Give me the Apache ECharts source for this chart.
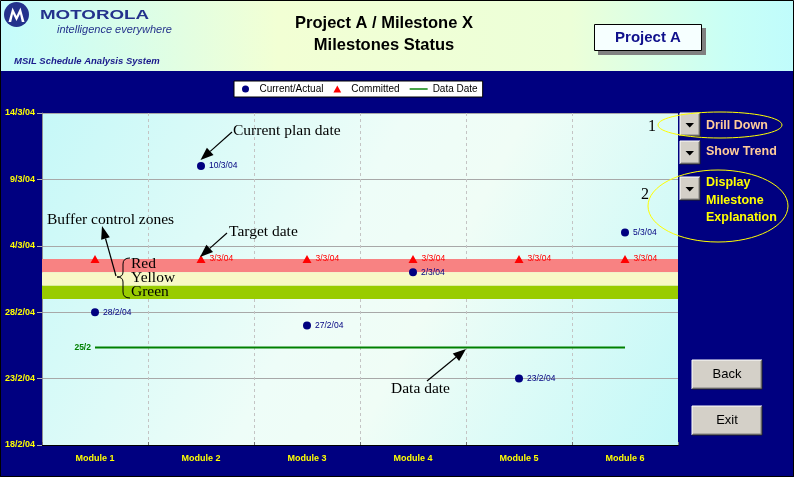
<!DOCTYPE html>
<html>
<head>
<meta charset="utf-8">
<title>Milestones Status</title>
<script src="https://cdn.jsdelivr.net/npm/echarts@6/dist/echarts.min.js"></script>
<style>
  html, body { margin: 0; padding: 0; background: #000080; }
  #chart { width: 794px; height: 477px; }
</style>
</head>
<body>
<div id="chart"></div>
<script>
// x axis categories
var modules = ['Module 1', 'Module 2', 'Module 3', 'Module 4', 'Module 5', 'Module 6'];
// current / actual date of each module
var actualDates = ['2004-02-28', '2004-03-10', '2004-02-27', '2004-03-02', '2004-02-23', '2004-03-05'];
// committed date of each module (first one has no label in the picture)
var committedDates = ['2004-03-03', '2004-03-03', '2004-03-03', '2004-03-03', '2004-03-03', '2004-03-03'];
var committedShowLabel = [false, true, true, true, true, true];
// data date line
var dataDate = '2004-02-25T08:00';
var dataDateLabel = '25/2';
// buffer control zones [from, to]
var redZone = ['2004-03-02', '2004-03-03'];
var yellowZone = ['2004-03-01', '2004-03-02'];
var greenZone = ['2004-02-29', '2004-03-01'];
// y axis ticks: 18/2/04 .. 14/3/04 every 5 days
var axisStart = '2004-02-18';
var axisStepDays = 5;
var axisSteps = 5;

var DAY = 86400000;
function utc(s) {
    var p = s.split(/[-T:]/).map(Number);
    return Date.UTC(p[0], p[1] - 1, p[2], p[3] || 0, p[4] || 0);
}
// days since axisStart
function dayOffset(s) {
    return (utc(s) - utc(axisStart)) / DAY;
}
// '2004-03-10' -> '10/3/04'
function shortDate(s) {
    var p = s.split(/[-T]/);
    return Number(p[2]) + '/' + Number(p[1]) + '/' + p[0].slice(2);
}
function offsetLabel(v) {
    var d = new Date(utc(axisStart) + Math.round(v) * DAY);
    return d.getUTCDate() + '/' + (d.getUTCMonth() + 1) + '/' + String(d.getUTCFullYear()).slice(2);
}

var SANS = 'Arial, "Liberation Sans", sans-serif';
var SERIF = '"Times New Roman", "Liberation Serif", serif';

// ---- decorations ----
var g = [];
function text(x, y, str, font, fill, align, extra) {
    var el = {
        type: 'text', x: x, y: y, z: 10,
        style: { text: str, font: font, fill: fill, align: align || 'left', verticalAlign: 'middle',
                 textAlign: align || 'left', textVerticalAlign: 'middle' }
    };
    if (extra) Object.assign(el, extra);
    g.push(el);
}
function arrow(x1, y1, x2, y2, hl, hw) {
    var a = Math.atan2(y2 - y1, x2 - x1);
    var bx = x2 - hl * Math.cos(a), by = y2 - hl * Math.sin(a);
    var px = -Math.sin(a) * hw / 2, py = Math.cos(a) * hw / 2;
    g.push({ type: 'line', z: 10, shape: { x1: x1, y1: y1, x2: bx, y2: by }, style: { stroke: '#000', lineWidth: 1.2 } });
    g.push({ type: 'polygon', z: 10, shape: { points: [[x2, y2], [bx + px, by + py], [bx - px, by - py]] }, style: { fill: '#000' } });
}
function bevelButton(x, y, w, h) {
    g.push({ type: 'rect', z: 10, shape: { x: x, y: y, width: w, height: h }, style: { fill: '#D4D0C8' } });
    g.push({ type: 'polyline', z: 10, shape: { points: [[x, y + h], [x, y], [x + w, y]] }, style: { stroke: '#FFFFFF', fill: null, lineWidth: 1 } });
    g.push({ type: 'polyline', z: 10, shape: { points: [[x + 1, y + h - 1], [x + w - 1, y + h - 1], [x + w - 1, y + 1]] }, style: { stroke: '#808080', fill: null, lineWidth: 1 } });
    g.push({ type: 'polyline', z: 10, shape: { points: [[x, y + h], [x + w, y + h], [x + w, y]] }, style: { stroke: '#202020', fill: null, lineWidth: 1 } });
}

// header strip
g.push({ type: 'rect', z: 0, shape: { x: 0, y: 0, width: 794, height: 71 },
    style: { fill: new echarts.graphic.LinearGradient(0, 0, 1, 0, [
        { offset: 0, color: '#C4FCFC' }, { offset: 0.35, color: '#F2FFD4' },
        { offset: 0.72, color: '#ECFFD8' }, { offset: 0.92, color: '#C8FFF6' }, { offset: 1, color: '#C0FCFC' }]) } });
// logo
g.push({ type: 'circle', z: 10, shape: { cx: 16.5, cy: 14.5, r: 12.5 }, style: { fill: '#24328C' } });
g.push({ type: 'polygon', z: 11, shape: { points: [[8.5, 22], [12.5, 7.5], [16.5, 16], [20.5, 7.5], [24.5, 22], [21.8, 22], [20, 14], [16.5, 21], [13, 14], [11.2, 22]] }, style: { fill: '#FFFFFF' } });
text(40, 16, 'MOTOROLA', '900 12.5px ' + SANS, '#24328C', 'left', { scaleX: 1.5 });
text(57, 30, 'intelligence everywhere', 'italic 11px ' + SANS, '#24328C');
text(14, 61.5, 'MSIL Schedule Analysis System', 'italic bold 9.5px ' + SANS, '#1A1A8C');
// title
text(384, 23, 'Project A / Milestone X', 'bold 16.5px ' + SANS, '#000', 'center');
text(384, 45, 'Milestones Status', 'bold 16.5px ' + SANS, '#000', 'center');
// project box
g.push({ type: 'rect', z: 10, shape: { x: 598, y: 28, width: 108, height: 27 }, style: { fill: '#808080' } });
g.push({ type: 'rect', z: 10, shape: { x: 594.5, y: 24.5, width: 107, height: 26 }, style: { fill: '#F6FFFF', stroke: '#000', lineWidth: 1 } });
text(648, 37.5, 'Project A', 'bold 15px ' + SANS, '#10108C', 'center');

// right side controls
[113, 141, 177].forEach(function (y) {
    bevelButton(680, y, 20, 23);
    g.push({ type: 'polygon', z: 11, shape: { points: [[685.5, y + 10], [694, y + 10], [689.75, y + 14.5]] }, style: { fill: '#000' } });
});
text(706, 126, 'Drill Down', 'bold 12.5px ' + SANS, '#FFCC99');
text(706, 152, 'Show Trend', 'bold 12.5px ' + SANS, '#FFCC99');
text(706, 183, 'Display', 'bold 12.5px ' + SANS, '#FFFF00');
text(706, 201, 'Milestone', 'bold 12.5px ' + SANS, '#FFFF00');
text(706, 218, 'Explanation', 'bold 12.5px ' + SANS, '#FFFF00');
g.push({ type: 'ellipse', z: 12, shape: { cx: 720, cy: 125, rx: 62, ry: 13 }, style: { fill: null, stroke: '#FFFF00', lineWidth: 1 } });
g.push({ type: 'ellipse', z: 12, shape: { cx: 718, cy: 206, rx: 70, ry: 36 }, style: { fill: null, stroke: '#FFFF00', lineWidth: 1 } });
text(652, 127, '1', '16px ' + SERIF, '#000', 'center');
text(645, 195, '2', '16px ' + SERIF, '#000', 'center');

// back / exit
bevelButton(692, 360, 70, 29);
bevelButton(692, 406, 70, 29);
text(727, 374.5, 'Back', '13px ' + SANS, '#000', 'center');
text(727, 420.5, 'Exit', '13px ' + SANS, '#000', 'center');

// annotations
text(233, 131, 'Current plan date', '15.5px ' + SERIF, '#000');
arrow(232, 132, 200.5, 160, 13, 10);
text(229, 232, 'Target date', '15.5px ' + SERIF, '#000');
arrow(227, 233, 200, 257, 13, 10);
text(47, 220, 'Buffer control zones', '15.5px ' + SERIF, '#000');
arrow(116, 276, 102, 226, 13, 9);
text(131, 264, 'Red', '15.5px ' + SERIF, '#000');
text(131, 278, 'Yellow', '15.5px ' + SERIF, '#000');
text(131, 292, 'Green', '15.5px ' + SERIF, '#000');
[
    [130, 258, 123, 264, 123, 258], [123, 272, 117, 277, 123, 277],
    [117, 277, 123, 282, 123, 277], [123, 292, 130, 298, 123, 298]
].forEach(function (b) {
    g.push({ type: 'bezierCurve', z: 10, shape: { x1: b[0], y1: b[1], x2: b[2], y2: b[3], cpx1: b[4], cpy1: b[5] }, style: { stroke: '#000', fill: null, lineWidth: 1 } });
});
g.push({ type: 'line', z: 10, shape: { x1: 123, y1: 264, x2: 123, y2: 272 }, style: { stroke: '#000', lineWidth: 1 } });
g.push({ type: 'line', z: 10, shape: { x1: 123, y1: 282, x2: 123, y2: 292 }, style: { stroke: '#000', lineWidth: 1 } });
text(391, 389, 'Data date', '15.5px ' + SERIF, '#000');
arrow(427, 381, 466, 349, 13, 10);

// outer frame
g.push({ type: 'rect', z: 20, shape: { x: 0.5, y: 0.5, width: 793, height: 476 }, style: { fill: null, stroke: '#000', lineWidth: 1 } });

// ---- chart ----
var chart = echarts.init(document.getElementById('chart'));
chart.setOption({
    backgroundColor: '#000080',
    animation: false,
    graphic: { elements: g },
    legend: {
        left: 234, top: 81,
        data: [
            { name: 'Current/Actual' },
            { name: 'Committed', icon: 'path://M5,0 L10,9 L0,9 Z' },
            { name: 'Data Date', icon: 'path://M0,0 L20,0 L20,1.6 L0,1.6 Z' }
        ],
        itemWidth: 18, itemHeight: 7, itemGap: 10,
        padding: [3, 5, 3, 8],
        backgroundColor: '#FFFFFF', borderColor: '#000', borderWidth: 1, borderRadius: 0,
        textStyle: { color: '#000', fontSize: 10, fontFamily: SANS }
    },
    grid: {
        left: 42, right: 116, top: 113, bottom: 32,
        show: true, borderWidth: 0,
        backgroundColor: new echarts.graphic.LinearGradient(0, 0, 1, 1, [
            { offset: 0, color: '#C6F8F8' }, { offset: 0.45, color: '#EEFDF8' },
            { offset: 0.6, color: '#F0FDF6' }, { offset: 1, color: '#C2F8F8' }])
    },
    xAxis: {
        type: 'category', data: modules, boundaryGap: true,
        axisLine: { show: true, lineStyle: { color: '#000', width: 1 } },
        axisTick: { show: true, inside: true, length: 3, lineStyle: { color: '#707070' } },
        axisLabel: { color: '#FFFF00', fontWeight: 'bold', fontSize: 9, fontFamily: SANS, margin: 9 },
        splitLine: { show: true, showMinLine: false, showMaxLine: false,
                     lineStyle: { color: '#C4C4C4', type: [3, 3], width: 1 } }
    },
    yAxis: {
        type: 'value', min: 0, max: axisStepDays * axisSteps, interval: axisStepDays,
        axisLine: { show: true, lineStyle: { color: '#909090' } },
        axisTick: { show: true, length: 5, lineStyle: { color: '#B0B0B0' } },
        axisLabel: { color: '#FFFF00', fontWeight: 'bold', fontSize: 9, fontFamily: SANS, margin: 7,
                     formatter: offsetLabel },
        splitLine: { show: true, lineStyle: { color: '#A8A8A8', width: 1 } }
    },
    series: [
        {
            name: 'Data Date', type: 'line', z: 1,
            data: modules.map(function (m, i) {
                return i === 0 ? { value: dayOffset(dataDate), label: { show: true } } : dayOffset(dataDate);
            }),
            color: '#008000',
            lineStyle: { color: '#008000', width: 2 },
            symbol: 'circle', symbolSize: 0.1, showSymbol: true,
            label: { show: false, position: 'left', distance: 4, formatter: dataDateLabel,
                     color: '#008000', fontWeight: 'bold', fontSize: 8.5, fontFamily: SANS },
            markArea: {
                silent: true,
                data: [
                    [{ yAxis: dayOffset(redZone[0]), itemStyle: { color: '#F88282', opacity: 1 } }, { yAxis: dayOffset(redZone[1]) }],
                    [{ yAxis: dayOffset(yellowZone[0]), itemStyle: { color: '#F8F8C6', opacity: 1 } }, { yAxis: dayOffset(yellowZone[1]) }],
                    [{ yAxis: dayOffset(greenZone[0]), itemStyle: { color: '#99CC00', opacity: 1 } }, { yAxis: dayOffset(greenZone[1]) }]
                ]
            }
        },
        {
            name: 'Current/Actual', type: 'scatter', z: 3,
            symbol: 'circle', symbolSize: 8,
            itemStyle: { color: '#000080', opacity: 1 },
            data: actualDates.map(function (d, i) { return [i, dayOffset(d)]; }),
            label: { show: true, position: 'right', distance: 4, color: '#000080', fontSize: 8.5, fontFamily: SANS,
                     formatter: function (p) { return shortDate(actualDates[p.dataIndex]); } }
        },
        {
            name: 'Committed', type: 'scatter', z: 3,
            symbol: 'triangle', symbolSize: [9, 8],
            itemStyle: { color: '#FF0000', opacity: 1 },
            data: committedDates.map(function (d, i) {
                return { value: [i, dayOffset(d)], label: { show: committedShowLabel[i] } };
            }),
            label: { show: true, position: 'right', distance: 4, color: '#FF0000', fontSize: 8.5, fontFamily: SANS,
                     formatter: function (p) { return shortDate(committedDates[p.dataIndex]); } }
        }
    ]
});
</script>
</body>
</html>
